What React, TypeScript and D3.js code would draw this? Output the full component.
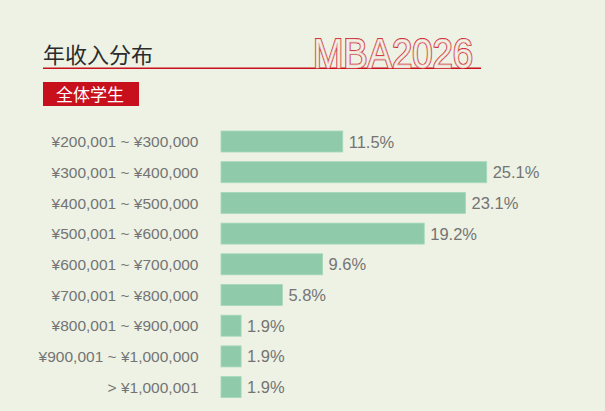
import React, { useEffect } from 'react';
import * as d3 from 'd3';

const categories: string[] = [
  '¥200,001 ~ ¥300,000',
  '¥300,001 ~ ¥400,000',
  '¥400,001 ~ ¥500,000',
  '¥500,001 ~ ¥600,000',
  '¥600,001 ~ ¥700,000',
  '¥700,001 ~ ¥800,000',
  '¥800,001 ~ ¥900,000',
  '¥900,001 ~ ¥1,000,000',
  '> ¥1,000,001',
];
const shares: number[] = [11.5, 25.1, 23.1, 19.2, 9.6, 5.8, 1.9, 1.9, 1.9];

const title = '年收入分布';
const badge = '全体学生';
const brand = 'MBA2026';

const W = 605;
const H = 411;
const bg = '#EDF2E4';
const red = '#C8101C';
const barColor = '#8FCBAB';
const textGray = '#747474';

const App: React.FC = () => {
  useEffect(() => {
    document.body.style.margin = '0';
  }, []);

  const x = d3.scaleLinear().domain([0, 25.1]).range([221, 486.7]);
  const y = d3
    .scaleBand<string>()
    .domain(categories)
    .range([126.15, 402.45])
    .paddingInner(0.316)
    .paddingOuter(0.158);

  return (
    <svg width={W} height={H} style={{ display: 'block', background: bg }}>
      <rect x={0} y={0} width={W} height={H} fill={bg} />

      {/* header */}
      <text
        x={43}
        y={62.5}
        fontFamily="'Noto Sans CJK SC', sans-serif"
        fontSize={22}
        fill="#2b2b2b"
      >
        {title}
      </text>
      <line x1={43} x2={481} y1={68.3} y2={68.3} stroke={red} strokeWidth={1.4} />
      <text
        x={313}
        y={67.6}
        fontFamily="'Liberation Sans', Arial, sans-serif"
        fontSize={42}
        textLength={160}
        lengthAdjust="spacingAndGlyphs"
        fill="none"
        stroke={red}
        strokeWidth={2}
      >
        {brand}
      </text>
      <text
        x={313}
        y={67.6}
        fontFamily="'Liberation Sans', Arial, sans-serif"
        fontSize={42}
        textLength={160}
        lengthAdjust="spacingAndGlyphs"
        fill={bg}
        stroke="#EBB0B0"
        strokeWidth={0.7}
      >
        {brand}
      </text>

      <rect x={43} y={82} width={96} height={24} fill={red} />
      <text
        x={90}
        y={100.5}
        textAnchor="middle"
        fontFamily="'Noto Sans CJK SC', sans-serif"
        fontSize={17}
        fill="#fff"
      >
        {badge}
      </text>

      {/* bars */}
      {categories.map((c, i) => {
        const y0 = y(c) || 0;
        const cy = y0 + y.bandwidth() / 2;
        return (
          <g key={c}>
            <text
              x={198.5}
              y={cy + 5.6}
              textAnchor="end"
              fontFamily="'Liberation Sans', Arial, sans-serif"
              fontSize={15.5}
              fill={textGray}
            >
              {c}
            </text>
            <rect
              x={x(0)}
              y={y0}
              width={x(shares[i]) - x(0)}
              height={y.bandwidth()}
              fill={barColor}
              stroke="#A6D8BC"
              strokeWidth={0.8}
            />
            <text
              x={x(shares[i]) + 6}
              y={cy + 6}
              fontFamily="'Liberation Sans', Arial, sans-serif"
              fontSize={16.5}
              fill={textGray}
            >
              {`${shares[i].toFixed(1)}%`}
            </text>
          </g>
        );
      })}
    </svg>
  );
};

export default App;
